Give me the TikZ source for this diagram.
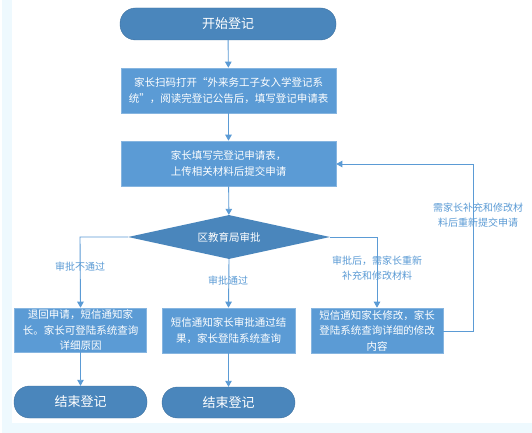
\documentclass[tikz,border=0pt]{standalone}
\usepackage{fontspec}
\setmainfont{Noto Sans CJK SC}
\newfontfamily\cjk{Noto Sans CJK SC}
\usetikzlibrary{shapes.geometric,arrows.meta}
\definecolor{boxblue}{HTML}{5B9BD5}
\definecolor{boxedge}{HTML}{86B5E0}
\definecolor{pillblue}{HTML}{4A86BC}
\definecolor{lineblue}{HTML}{5B9BD5}
\definecolor{labblue}{HTML}{5B9BD5}
\definecolor{bgstrip}{HTML}{EEF9FE}
\tikzset{
  procbox/.style={draw=boxedge, line width=0.6pt, fill=boxblue, text=white, inner sep=1pt, align=center, font=\cjk\fontsize{10.5}{15.5}\selectfont},
  pill/.style={fill=pillblue, draw=pillblue!85!black, line width=0.4pt, rounded corners=15.5pt, text=white, font=\cjk\fontsize{13}{15}\selectfont},
  dia/.style={diamond, fill=pillblue, text=white, inner sep=0pt, font=\cjk\fontsize{10.5}{13}\selectfont},
  conn/.style={draw=lineblue, line width=0.9pt, -{Triangle[length=6pt,width=6.5pt]}},
  lab/.style={text=labblue, align=center, font=\cjk\fontsize{10}{14.5}\selectfont}
}
\begin{document}
\begin{tikzpicture}[x=1pt,y=-1pt]
\useasboundingbox (0,0) rectangle (532,433);
\fill[white] (0,0) rectangle (532,433);
\fill[bgstrip] (2,0) rectangle (12,433);
\fill[bgstrip] (2,423) rectangle (532,433);

\node[pill, minimum width=216pt, minimum height=32pt] (start) at (228,24) {开始登记};
\node[procbox, minimum width=215pt, minimum height=45pt] (b1) at (228.5,90.5) {家长扫码打开“外来务工子女入学登记系\\统”，阅读完登记公告后，填写登记申请表};
\node[procbox, minimum width=215pt, minimum height=45pt] (b2) at (228.5,163.5) {家长填写完登记申请表，\\上传相关材料后提交申请};
\node[dia, minimum width=202pt, minimum height=44pt, aspect=4.6] (d) at (229,237) {区教育局审批};
\node[procbox, minimum width=132pt, minimum height=44pt] (l) at (80.5,330) {退回申请，短信通知家\\长。家长可登陆系统查询\\详细原因};
\node[procbox, minimum width=133pt, minimum height=45pt] (m) at (228.5,330.5) {短信通知家长审批通过结\\果，家长登陆系统查询};
\node[procbox, minimum width=132pt, minimum height=45pt] (r) at (377,330.5) {短信通知家长修改，家长\\登陆系统查询详细的修改\\内容};
\node[pill, minimum width=133pt, minimum height=32pt] (e1) at (80.5,402) {结束登记};
\node[pill, minimum width=133pt, minimum height=31pt] (e2) at (228.5,402.5) {结束登记};

\coordinate (lc) at (80,237);
\coordinate (rc) at (377,237);
\coordinate (loopA) at (473,331);
\coordinate (loopB) at (473,164);

\draw[conn] (start) -- (b1);
\draw[conn] (b1) -- (b2);
\draw[conn] (b2) -- (d);
\draw[conn] (d.west) -- (lc) -- (l.north);
\draw[conn] (d.south) -- (m.north);
\draw[conn] (d.east) -- (rc) -- (r.north);
\draw[conn] (l) -- (e1);
\draw[conn] (m) -- (e2);
\draw[conn] (r.east |- loopA) -- (loopA) -- (loopB) -- (b2.east |- loopB);

\node[lab] (la1) at (80,267) {审批不通过};
\node[lab] (la2) at (228,281) {审批通过};
\node[lab] (la3) at (377,268) {审批后，需家长重新\\补充和修改材料};
\node[lab] (la4) at (478,215) {需家长补充和修改材\\料后重新提交申请};
\end{tikzpicture}
\end{document}
